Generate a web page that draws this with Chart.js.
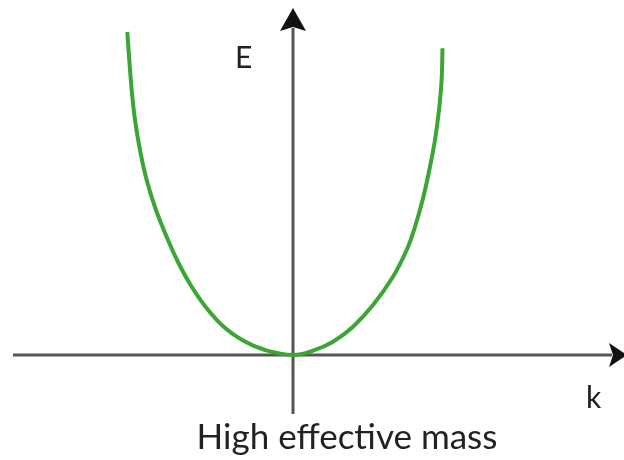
<!DOCTYPE html>
<html>
<head>
<meta charset="utf-8">
<title>High effective mass</title>
<script src="https://cdn.jsdelivr.net/npm/chart.js@4/dist/chart.umd.min.js"></script>
<style>
  html, body { margin: 0; padding: 0; background: #fff; }
  #wrap { width: 624px; height: 460px; }
</style>
</head>
<body>
<div id="wrap"><canvas id="band" width="624" height="460"></canvas></div>
<script>
// wave vector k and energy E (arbitrary units)
const kValues = [-1.657, -1.637, -1.613, -1.58, -1.53, -1.463, -1.37, -1.25, -1.15, -1.03, -0.88, -0.69, -0.49, -0.28, 0,
                 0.20, 0.40, 0.60, 0.80, 1.00, 1.137, 1.21, 1.296, 1.363, 1.42, 1.46, 1.486, 1.495];
const eValues = [3.23, 2.95, 2.65, 2.35, 2.05, 1.75, 1.45, 1.15, 0.93, 0.71, 0.49, 0.28, 0.14, 0.05, 0,
                 0.043, 0.133, 0.283, 0.50, 0.783, 1.05, 1.25, 1.55, 1.85, 2.15, 2.45, 2.75, 3.067];
const axisLabels = ['k', 'E'];
const caption = 'High effective mass';

const FONT = '"Lato", "Open Sans", sans-serif';

// draws the two arrowed axes through the origin and the text
const axesPlugin = {
  id: 'axes',
  beforeDatasetsDraw(chart) {
    const ctx = chart.ctx;
    const x0 = chart.scales.x.getPixelForValue(0);
    const y0 = chart.scales.y.getPixelForValue(0);
    ctx.save();
    ctx.strokeStyle = '#555';
    ctx.fillStyle = '#111';
    ctx.lineWidth = 3;

    // horizontal axis
    ctx.beginPath();
    ctx.moveTo(13, y0);
    ctx.lineTo(612, y0);
    ctx.stroke();
    ctx.beginPath();
    ctx.moveTo(627, y0);
    ctx.lineTo(609, y0 - 12);
    ctx.lineTo(613, y0);
    ctx.lineTo(609, y0 + 12);
    ctx.closePath();
    ctx.fill();

    // vertical axis
    ctx.beginPath();
    ctx.moveTo(x0, 414);
    ctx.lineTo(x0, 28);
    ctx.stroke();
    ctx.beginPath();
    ctx.moveTo(x0, 8);
    ctx.lineTo(x0 - 13, 31);
    ctx.lineTo(x0, 27);
    ctx.lineTo(x0 + 13, 31);
    ctx.closePath();
    ctx.fill();

    ctx.fillStyle = '#222';
    ctx.textBaseline = 'alphabetic';
    ctx.textAlign = 'left';
    ctx.font = '30px ' + FONT;
    ctx.fillText(axisLabels[1], 235, 68);
    ctx.fillText(axisLabels[0], 586, 408);
    ctx.textAlign = 'center';
    ctx.font = '35px ' + FONT;
    ctx.fillText(caption, 347, 449);
    ctx.restore();
  }
};

new Chart(document.getElementById('band'), {
  type: 'scatter',
  data: {
    datasets: [{
      data: kValues.map((k, i) => ({ x: k, y: eValues[i] })),
      showLine: true,
      borderColor: '#3ba535',
      borderWidth: 4,
      pointRadius: 0,
      tension: 0.4
    }]
  },
  options: {
    responsive: false,
    animation: false,
    layout: { padding: 0 },
    plugins: { legend: { display: false }, tooltip: { enabled: false } },
    scales: {
      x: { type: 'linear', display: false, min: -2.93, max: 3.31 },
      y: { type: 'linear', display: false, min: -1.05, max: 3.55 }
    }
  },
  plugins: [axesPlugin]
});
</script>
</body>
</html>
